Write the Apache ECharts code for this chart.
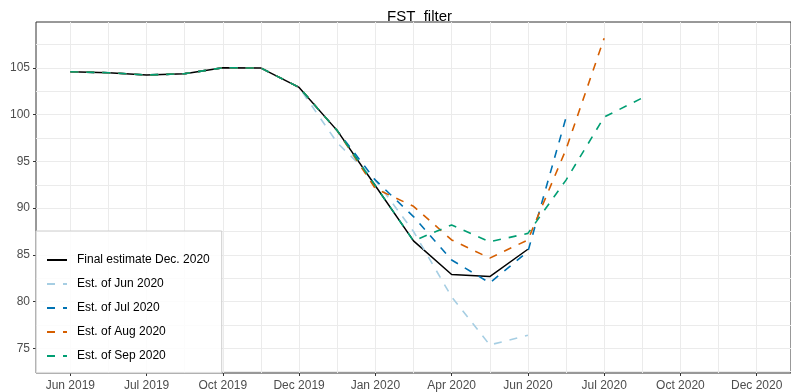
<!DOCTYPE html>
<html><head><meta charset="utf-8">
<script src="https://cdn.jsdelivr.net/npm/echarts@6/dist/echarts.min.js"></script>
<style>html,body{margin:0;padding:0;background:#fff}#c{width:791px;height:392px}</style>
</head><body><div id="c"></div>
<script>
// x positions are period indices 0..18; tick labels at even indices
const tickIndex = [0, 2, 4, 6, 8, 10, 12, 14, 16, 18];
const tickLabels = ['Jun 2019','Jul 2019','Oct 2019','Dec 2019','Jan 2020','Apr 2020','Jun 2020','Jul 2020','Oct 2020','Dec 2020'];
const minorXTicks = [1, 3, 5, 7, 9, 11, 13, 15, 17];
const yTicks = [75, 80, 85, 90, 95, 100, 105];
const minorYTicks = [72.5, 77.5, 82.5, 87.5, 92.5, 97.5, 102.5, 107.5];

const seriesNames = ['Final estimate Dec. 2020','Est. of Jun 2020','Est. of Jul 2020','Est. of Aug 2020','Est. of Sep 2020'];
const finalEst = [104.6, 104.5, 104.25, 104.4, 105.03, 105.0, 102.93, 98.3, 92.4, 86.5, 82.9, 82.67, 85.6];
const estJun   = [104.6, 104.5, 104.25, 104.4, 105.03, 105.0, 102.93, 97.0, 93.0, 87.5, 80.5, 75.35, 76.4];
const estJul   = [104.6, 104.5, 104.25, 104.4, 105.03, 105.0, 102.93, 98.3, 93.0, 89.1, 84.45, 82.0, 85.35, 99.7];
const estAug   = [104.6, 104.5, 104.25, 104.4, 105.03, 105.0, 102.93, 98.3, 92.1, 90.2, 86.6, 84.65, 86.6, 96.3, 108.2];
const estSep   = [104.6, 104.5, 104.25, 104.4, 105.03, 105.0, 102.93, 98.3, 92.4, 86.5, 88.2, 86.4, 87.3, 93.0, 99.75, 101.8];

const colors = ['#000000', '#a6cee3', '#0072b2', '#d55e00', '#009e73'];
const allData = [finalEst, estJun, estJul, estAug, estSep];

const FONT = 'Liberation Sans, Arial, Helvetica, sans-serif';
const chart = echarts.init(document.getElementById('c'), null, {renderer: 'canvas'});

const series = allData.map((arr, k) => ({
  name: seriesNames[k],
  type: 'line',
  xAxisIndex: 0,
  yAxisIndex: 0,
  symbol: 'none',
  animation: false,
  lineStyle: {color: colors[k], width: k === 0 ? 1.5 : 1.6, type: k === 0 ? 'solid' : [8, 8]},
  itemStyle: {color: colors[k]},
  data: arr.map((v, i) => [i, v]),
  z: 2 + k
}));

chart.setOption({
  animation: false,
  title: {
    text: 'FST  filter',
    left: 382, top: 4,
    textStyle: {fontFamily: FONT, fontSize: 15, fontWeight: 'normal', color: '#000'}
  },
  grid: {left: 36, top: 22, width: 756.7, height: 351, show: true, borderColor: '#333333', borderWidth: 1, backgroundColor: 'transparent'},
  legend: {
    orient: 'vertical',
    left: 36, top: 231,
    padding: [23, 12, 11, 10],
    itemGap: 12,
    itemWidth: 20, itemHeight: 14,
    backgroundColor: 'rgba(255,255,255,0.85)',
    borderColor: '#cccccc', borderWidth: 1,
    itemStyle: {opacity: 0, borderWidth: 0},
    textStyle: {fontFamily: FONT, fontSize: 12, color: '#000', padding: [0, 0, 0, 5]},
    data: seriesNames,
    z: 20
  },
  xAxis: [{
    type: 'value', min: -0.9, max: 18.9,
    axisLine: {show: false, onZero: false},
    axisTick: {show: true, length: 3, lineStyle: {color: '#333333'}, customValues: tickIndex},
    axisLabel: {show: true, customValues: tickIndex, margin: 7, color: '#4d4d4d', fontFamily: FONT, fontSize: 12,
      formatter: v => tickLabels[tickIndex.indexOf(Math.round(v))] || ''},
    splitLine: {show: true, lineStyle: {color: '#ebebeb', width: 1}}
  }, {
    type: 'value', min: -0.9, max: 18.9, position: 'top',
    axisLine: {show: false, onZero: false},
    axisTick: {show: false, customValues: minorXTicks},
    axisLabel: {show: false, customValues: minorXTicks},
    splitLine: {show: true, lineStyle: {color: '#ebebeb', width: 1}}
  }],
  yAxis: [{
    type: 'value', min: 72.35, max: 109.93,
    axisLine: {show: false, onZero: false},
    axisTick: {show: true, length: 3, lineStyle: {color: '#333333'}, customValues: yTicks},
    axisLabel: {show: true, customValues: yTicks, margin: 6, color: '#4d4d4d', fontFamily: FONT, fontSize: 12},
    splitLine: {show: true, lineStyle: {color: '#ebebeb', width: 1}}
  }, {
    type: 'value', min: 72.35, max: 109.93, position: 'right',
    axisLine: {show: false, onZero: false},
    axisTick: {show: false, customValues: minorYTicks},
    axisLabel: {show: false, customValues: minorYTicks},
    splitLine: {show: true, lineStyle: {color: '#ebebeb', width: 1}}
  }],
  series: series
});
</script></body></html>
